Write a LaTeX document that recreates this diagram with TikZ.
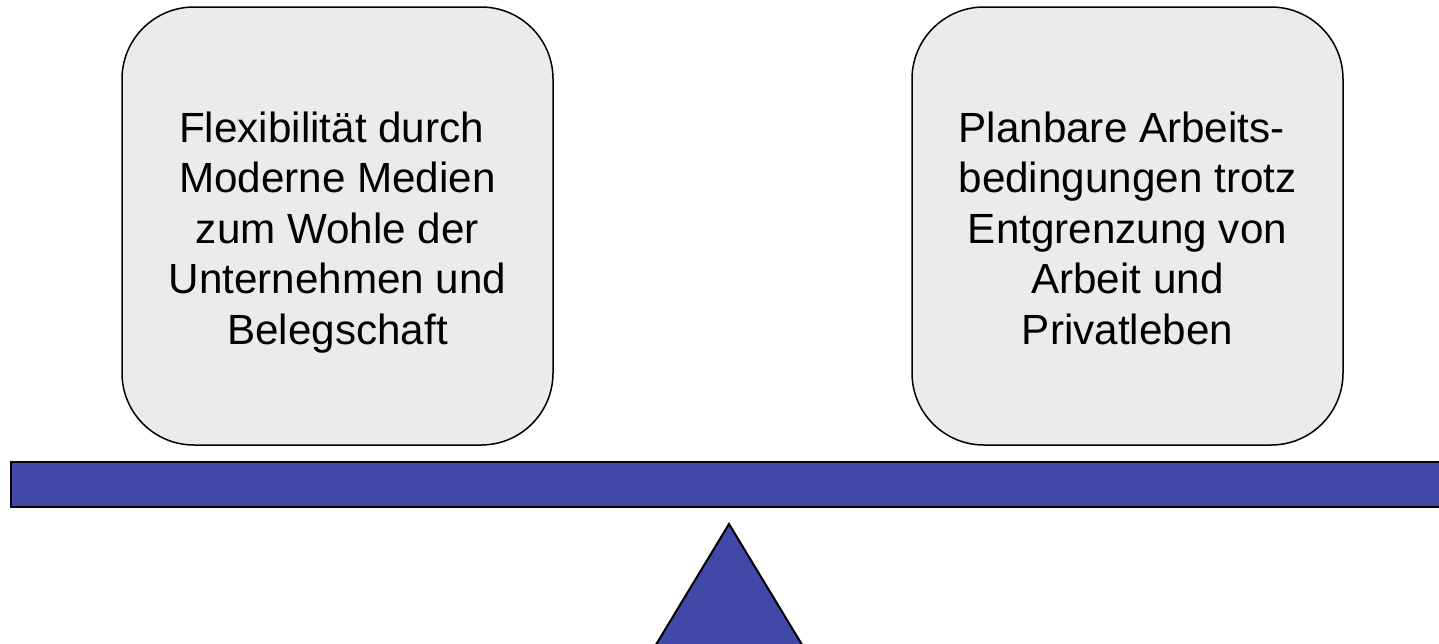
\documentclass[tikz,border=0pt]{standalone}
\usepackage{fontspec}
\setmainfont{Liberation Sans}
\definecolor{barblue}{RGB}{66,72,168}
\definecolor{boxgray}{RGB}{235,235,235}
\newcommand{\tsp}{\hspace*{0.278em}}
\begin{document}
\begin{tikzpicture}[x=1pt,y=-1pt,
  panel/.style={draw=black, line width=1.5pt, fill=boxgray, rounded corners=72pt,
    minimum width=431pt, minimum height=438pt, inner sep=0pt},
  panellabel/.style={align=center, font=\fontsize{42.2}{50.5}\selectfont, text=black, inner sep=0pt},
  beam/.style={draw=black, line width=2pt, fill=barblue}]
\useasboundingbox (0,0) rectangle (1439,643);
\clip (0,0) rectangle (1439,643);
\node[panel] (left) at (337.5,226) {};
\node[panel] (right) at (1127.5,226) {};
\node[panellabel] (lefttext) at (337.5,232.5) {Flexibilität durch\tsp\\Moderne Medien\tsp\\zum Wohle der\tsp\\Unternehmen und\tsp\\Belegschaft};
\node[panellabel] (righttext) at (1127.5,228) {Planbare Arbeits-\tsp\\bedingungen trotz\tsp\\Entgrenzung von\tsp\\Arbeit und\tsp\\Privatleben};
\node[beam, minimum width=1449pt, minimum height=45pt, inner sep=0pt] (beamnode) at (735.5,484.2) {};
\coordinate (apex) at (729,524);
\coordinate (baseL) at (622.5,700);
\coordinate (baseR) at (835.5,700);
\draw[beam] (apex) -- (baseR) -- (baseL) -- cycle;
\end{tikzpicture}
\end{document}
